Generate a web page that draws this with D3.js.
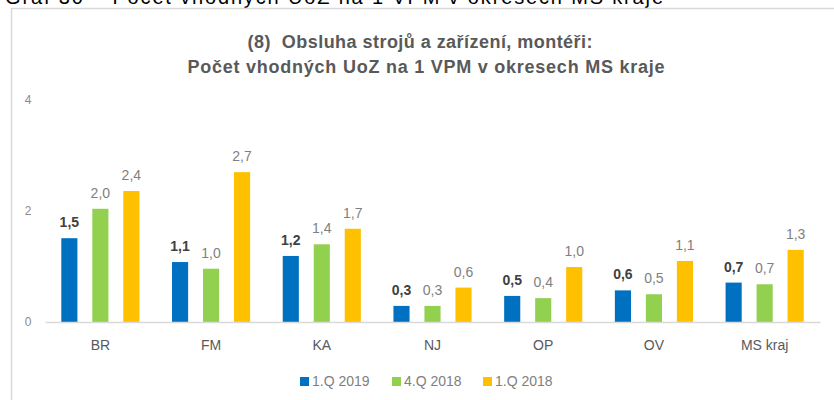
<!DOCTYPE html>
<html>
<head>
<meta charset="utf-8">
<script src="https://cdn.jsdelivr.net/npm/d3@7"></script>
<style>
  body { margin: 0; background: #fff; }
  text { font-family: "Liberation Sans", Arial, sans-serif; }
</style>
</head>
<body>
<div id="chart"></div>
<script>
const categories = ["BR", "FM", "KA", "NJ", "OP", "OV", "MS kraj"]
const seriesNames = ["1.Q 2019", "4.Q 2018", "1.Q 2018"]
const q1_2019 = [1.51, 1.08, 1.19, 0.29, 0.47, 0.57, 0.71]
const q4_2018 = [2.04, 0.96, 1.40, 0.29, 0.43, 0.50, 0.68]
const q1_2018 = [2.36, 2.70, 1.68, 0.62, 0.99, 1.10, 1.30]
const yTicks = [0, 2, 4]
const colors = ["#0070C0", "#92D050", "#FFC000"]

const allSeries = [q1_2019, q4_2018, q1_2018]

width = 834
height = 400
margin = ({ top: 100, right: 14, bottom: 78, left: 45 })

const svg = d3.select("#chart").append("svg")
    .attr("width", width)
    .attr("height", height)

// caption above the chart box (cut off at top in the source image)
svg.append("text")
    .attr("x", 5)
    .attr("y", 4)
    .attr("font-size", 20)
    .attr("fill", "#000")
    .attr("textLength", 658)
    .text("Graf 30 – Počet vhodných UoZ na 1 VPM v okresech MS kraje")

// chart box border
svg.append("path")
    .attr("d", `M${width + 5},8.5 H11.5 V${height + 5}`)
    .attr("fill", "none")
    .attr("stroke", "#d9d9d9")
    .attr("stroke-width", 1.5)

// title
const title = svg.append("text")
    .attr("text-anchor", "middle")
    .attr("font-size", 18)
    .attr("font-weight", "bold")
    .attr("fill", "#595959")
    .style("white-space", "pre")
title.append("tspan").attr("x", 420).attr("y", 48)
    .attr("textLength", 345)
    .text("(8)  Obsluha strojů a zařízení, montéři:")
title.append("tspan").attr("x", 426).attr("y", 73)
    .attr("textLength", 477)
    .text("Počet vhodných UoZ na 1 VPM v okresech MS kraje")

var x0 = d3.scaleBand()
    .domain(categories)
    .range([margin.left, width - margin.right])
    .paddingInner(0.16)
    .paddingOuter(0.08)

var x1 = d3.scaleBand()
    .domain(seriesNames)
    .range([0, x0.bandwidth()])
    .paddingInner(0.48)
    .paddingOuter(0.24)

var y = d3.scaleLinear()
    .domain([0, 4])
    .range([height - margin.bottom, margin.top])

// y tick labels (no axis line)
svg.append("g")
    .selectAll("text")
    .data(yTicks)
    .enter().append("text")
    .attr("x", 28)
    .attr("y", d => y(d) + 4)
    .attr("text-anchor", "middle")
    .attr("font-size", 12)
    .attr("fill", "#8c8c8c")
    .text(d => d)

// bars
const groups = svg.append("g")
    .selectAll("g")
    .data(allSeries)
    .enter().append("g")
    .attr("fill", (d, i) => colors[i])

groups.selectAll("rect")
    .data((d, i) => d.map((v, j) => ({ v: v, cat: categories[j], s: seriesNames[i] })))
    .enter().append("rect")
    .attr("x", d => x0(d.cat) + x1(d.s))
    .attr("y", d => y(d.v))
    .attr("width", x1.bandwidth())
    .attr("height", d => y(0) - y(d.v))

// value labels
const fmt = v => v.toFixed(1).replace(".", ",")
groups.selectAll("text")
    .data((d, i) => d.map((v, j) => ({ v: v, cat: categories[j], s: seriesNames[i], i: i })))
    .enter().append("text")
    .attr("x", d => x0(d.cat) + x1(d.s) + x1.bandwidth() / 2)
    .attr("y", d => y(d.v) - 11)
    .attr("text-anchor", "middle")
    .attr("font-size", 14)
    .attr("font-weight", d => d.i === 0 ? "bold" : "normal")
    .attr("fill", d => d.i === 0 ? "#404040" : "#7f7f7f")
    .text(d => fmt(d.v))

// x axis
const xAxis = svg.append("g")
    .attr("transform", `translate(0,${y(0)})`)
    .call(d3.axisBottom(x0).tickSize(0).tickPadding(18))
xAxis.select(".domain").attr("stroke", "#d9d9d9").attr("stroke-width", 1.5)
xAxis.selectAll("text")
    .attr("font-size", 14)
    .attr("fill", "#595959")
    .style("font-family", "'Liberation Sans', Arial, sans-serif")

// legend
const legendX = [300, 392, 483]
const legend = svg.append("g")
    .selectAll("g")
    .data(seriesNames)
    .enter().append("g")
    .attr("transform", (d, i) => `translate(${legendX[i]},381)`)
legend.append("rect")
    .attr("x", 0)
    .attr("y", -4)
    .attr("width", 9)
    .attr("height", 9)
    .attr("fill", (d, i) => colors[i])
legend.append("text")
    .attr("x", 12)
    .attr("y", 5)
    .attr("font-size", 14)
    .attr("fill", "#7f7f7f")
    .text(d => d)
</script>
</body>
</html>
